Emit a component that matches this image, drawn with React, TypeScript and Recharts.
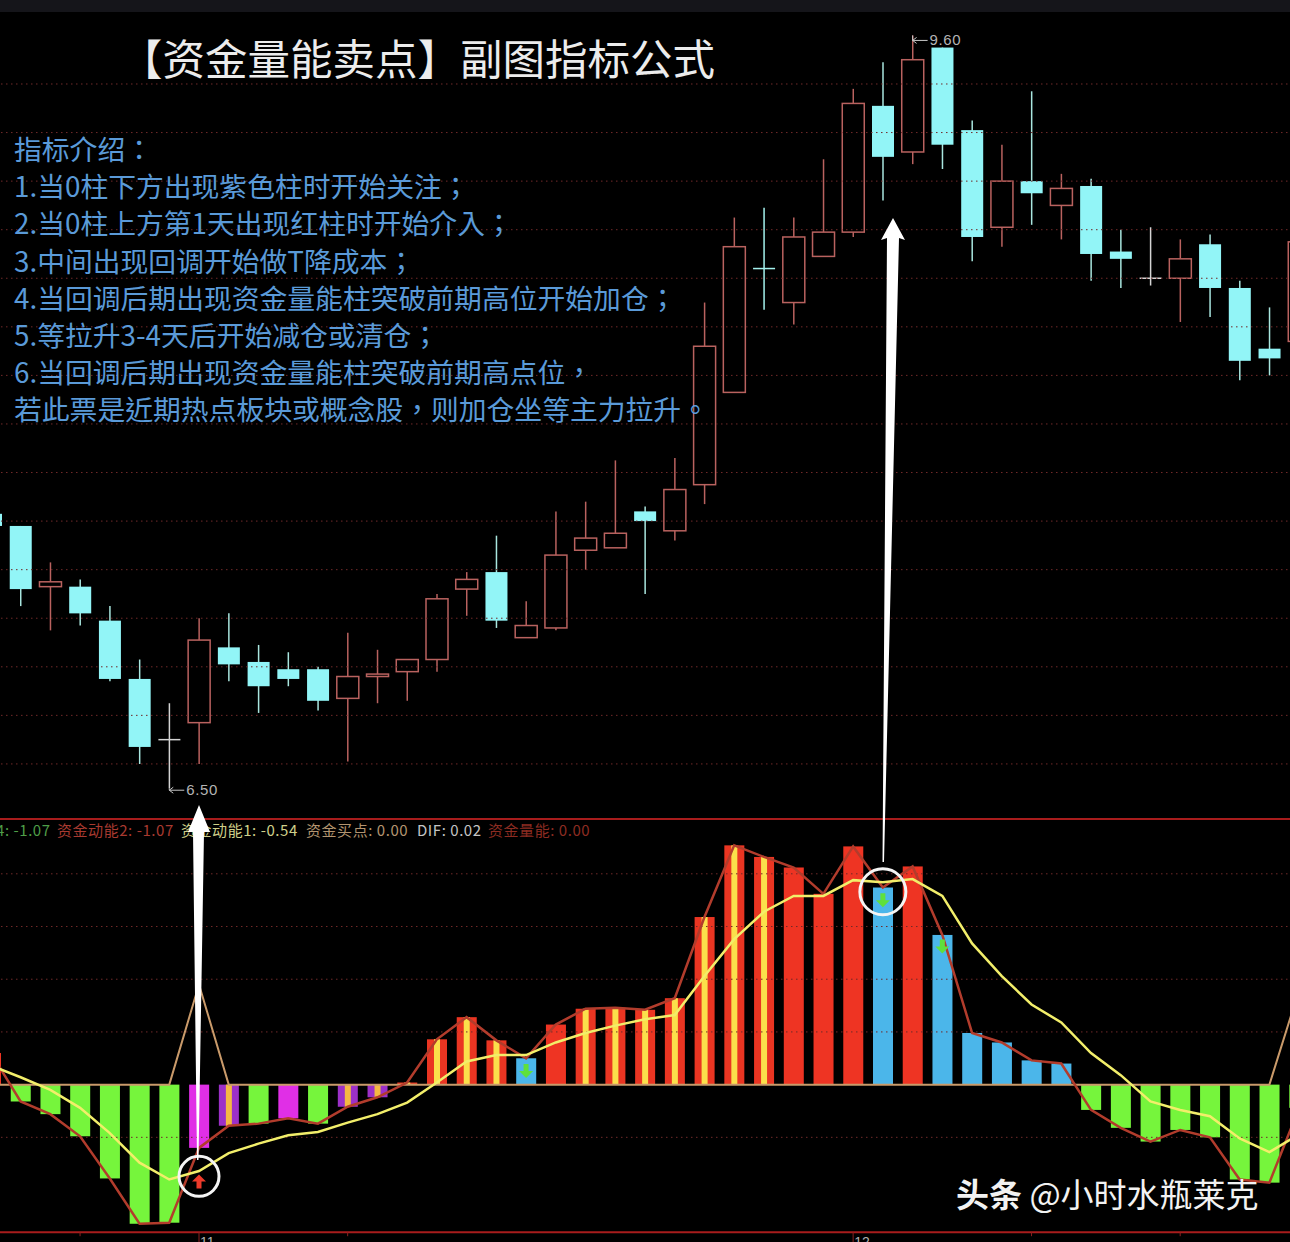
import React from 'react';
import { ComposedChart, Bar, Line, XAxis, YAxis, ReferenceLine, ReferenceDot } from 'recharts';

// candle values
const opens = [7.63, 7.58, 7.33, 7.33, 7.19, 6.95, 6.70, 6.77, 7.08, 7.02, 6.99, 6.99, 6.87, 6.96, 6.98, 7.03, 7.32, 7.39, 7.12, 7.16, 7.48, 7.49, 7.64, 7.56, 7.75, 8.13, 8.64, 8.50, 8.69, 8.79, 9.31, 9.12, 9.55, 9.21, 8.81, 9.00, 8.90, 8.98, 8.71, 8.60, 8.60, 8.74, 8.56, 8.31, 8.34];
const highs = [7.65, 7.58, 7.43, 7.36, 7.25, 7.03, 6.85, 7.20, 7.22, 7.09, 7.06, 7.00, 7.14, 7.07, 7.03, 7.30, 7.39, 7.54, 7.27, 7.64, 7.68, 7.85, 7.66, 7.86, 8.50, 8.85, 8.89, 8.85, 9.09, 9.38, 9.49, 9.60, 9.55, 9.25, 9.15, 9.37, 9.03, 9.01, 8.80, 8.81, 8.76, 8.78, 8.59, 8.48, 8.80];
const lows = [7.56, 7.25, 7.15, 7.17, 6.94, 6.60, 6.50, 6.60, 6.94, 6.81, 6.92, 6.82, 6.61, 6.85, 6.86, 6.98, 7.21, 7.16, 7.12, 7.15, 7.40, 7.49, 7.30, 7.52, 7.67, 8.13, 8.47, 8.41, 8.69, 8.77, 8.92, 9.07, 9.05, 8.67, 8.73, 8.82, 8.76, 8.59, 8.56, 8.57, 8.42, 8.44, 8.18, 8.20, 8.30];
const closes = [7.58, 7.32, 7.35, 7.22, 6.95, 6.67, 6.70, 7.11, 7.01, 6.92, 6.95, 6.86, 6.96, 6.97, 7.03, 7.28, 7.36, 7.19, 7.17, 7.46, 7.53, 7.55, 7.60, 7.73, 8.32, 8.73, 8.64, 8.77, 8.79, 9.32, 9.10, 9.50, 9.15, 8.77, 9.00, 8.95, 8.97, 8.70, 8.68, 8.60, 8.68, 8.56, 8.26, 8.27, 8.75];
const whiteDoji = [6, 39];

// indicator values for the lower panel
const momentum = [0.30, -0.16, -0.28, -0.49, -0.89, -1.32, -1.31, -0.60, -0.39, -0.37, -0.32, -0.37, -0.21, -0.12, 0.02, 0.43, 0.64, 0.42, 0.25, 0.57, 0.72, 0.73, 0.71, 0.82, 1.59, 2.27, 2.16, 2.06, 1.81, 2.26, 1.87, 2.07, 1.42, 0.49, 0.40, 0.23, 0.20, -0.24, -0.41, -0.54, -0.43, -0.50, -0.90, -0.93, -0.22];
const dif = [0.18, 0.07, -0.05, -0.22, -0.46, -0.74, -0.90, -0.82, -0.65, -0.56, -0.48, -0.45, -0.36, -0.28, -0.17, 0.02, 0.22, 0.28, 0.28, 0.40, 0.49, 0.56, 0.62, 0.66, 1.03, 1.38, 1.64, 1.79, 1.79, 1.94, 1.92, 1.95, 1.79, 1.34, 1.03, 0.76, 0.59, 0.30, 0.09, -0.16, -0.24, -0.30, -0.51, -0.64, -0.47];
const buySignal = [0, 0, 0, 0, 0, 0, 0, 0.95, 0, 0, 0, 0, 0, 0, 0, 0, 0, 0, 0, 0, 0, 0, 0, 0, 0, 0, 0, 0, 0, 0, 0, 0, 0, 0, 0, 0, 0, 0, 0, 0, 0, 0, 0, 0, 0.9];
const barKinds = ['red', 'green', 'green', 'green', 'green', 'green', 'green', 'magenta', 'purple', 'green', 'magenta', 'green', 'purple', 'purple', 'redStripe', 'redStripe', 'redStripe', 'redStripe', 'blue', 'red', 'redStripe', 'redStripe', 'redStripe', 'redStripe', 'redStripe', 'redStripe', 'redStripe', 'red', 'red', 'red', 'blue', 'red', 'blue', 'blue', 'blue', 'blue', 'blue', 'green', 'green', 'green', 'green', 'green', 'green', 'green', 'green'];

const priceGrid = [6.6, 6.8, 7.0, 7.2, 7.4, 7.6, 7.8, 8.0, 8.2, 8.4, 8.6, 8.8, 9.0, 9.2, 9.4];
const indicatorGrid = [-0.5, 0.5, 1, 1.5, 2];
const sellMarks = [{ i: 18, v: 0.13 }, { i: 30, v: 1.75 }, { i: 32, v: 1.31 }];
const buyMarks = [{ i: 7, v: -0.92 }];
const circles = [{ i: 7, v: -0.87, r: 20 }, { i: 30, v: 1.83, r: 23 }];
const axisTicks = [3, 7, 12, 29, 35, 40];
const axisLabels: Record<number, string> = { 7: '11', 29: '12' };

const title = '【资金量能卖点】副图指标公式';
const introLines = [
  '指标介绍：',
  '1.当0柱下方出现紫色柱时开始关注；',
  '2.当0柱上方第1天出现红柱时开始介入；',
  '3.中间出现回调开始做T降成本；',
  '4.当回调后期出现资金量能柱突破前期高位开始加仓；',
  '5.等拉升3-4天后开始减仓或清仓；',
  '6.当回调后期出现资金量能柱突破前期高点位，',
  '若此票是近期热点板块或概念股，则加仓坐等主力拉升。',
];
const legendItems = [
  { text: '4: -1.07', left: -4, color: '#4f9e48' },
  { text: '资金动能2: -1.07', left: 57, color: '#a83a30' },
  { text: '资金动能1: -0.54', left: 181, color: '#cfd08a' },
  { text: '资金买点: 0.00', left: 306, color: '#b3946f' },
  { text: 'DIF: 0.02', left: 417, color: '#c4c4c4' },
  { text: '资金量能: 0.00', left: 488, color: '#8d2c22' },
];

const candles = opens.map((open, i) => ({ i, open, high: highs[i], low: lows[i], close: closes[i] }));
const panel = momentum.map((value, i) => ({ i, value, dif: dif[i], buy: buySignal[i], kind: barKinds[i] }));

const CHART_WIDTH = 1338;
const UP = '#b9625f';
const DOWN = '#92f5f7';
const GRID = '#702929';
const CJK = '"Noto Sans CJK SC", "Noto Sans", sans-serif';
const CJK_TC = '"Noto Sans CJK TC", "Noto Sans", sans-serif';

const barColors: Record<string, string> = {
  red: '#ee3423',
  redStripe: '#ea3522',
  blue: '#4bb6ea',
  green: '#76f53c',
  magenta: '#e02fe6',
  purple: '#9c30c8',
};

const Candle = (props: any) => {
  const { x, y, width, height, payload } = props;
  const cx = x + width / 2;
  const unit = height / Math.max(payload.high - payload.low, 0.01);
  const top = y + (payload.high - Math.max(payload.open, payload.close)) * unit;
  const bottom = y + (payload.high - Math.min(payload.open, payload.close)) * unit;
  if (payload.open === payload.close) {
    const color = whiteDoji.includes(payload.i) ? '#d4d4d4' : '#a4f2ee';
    return (
      <g>
        <line x1={cx} x2={cx} y1={y} y2={y + height} stroke={color} strokeWidth={1.5} />
        <line x1={x} x2={x + width} y1={top} y2={top} stroke={color} strokeWidth={1.5} />
      </g>
    );
  }
  if (payload.close > payload.open) {
    return (
      <g>
        <line x1={cx} x2={cx} y1={y} y2={y + height} stroke={UP} strokeWidth={1.5} />
        <rect x={x} y={top} width={width} height={bottom - top} fill="#000" stroke={UP} strokeWidth={1.5} />
      </g>
    );
  }
  return (
    <g>
      <line x1={cx} x2={cx} y1={y} y2={y + height} stroke="#a9e6df" strokeWidth={1.5} />
      <rect x={x} y={top} width={width} height={bottom - top} fill={DOWN} />
    </g>
  );
};

const PanelBar = (props: any) => {
  const { x, y, width, height, payload } = props;
  const top = Math.min(y, y + height);
  const h = Math.abs(height);
  const striped = payload.kind === 'redStripe' || payload.kind === 'purple';
  return (
    <g>
      <rect x={x} y={top} width={width} height={h} fill={barColors[payload.kind]} />
      {striped && (
        <rect
          x={x + width / 2 - 3}
          y={top}
          width={6}
          height={h}
          fill={payload.kind === 'purple' ? '#f4b843' : '#fbe04b'}
        />
      )}
    </g>
  );
};

const arrowPath = (cx: number, cy: number, dir: number) =>
  `M${cx} ${cy - 7 * dir}L${cx + 7} ${cy}L${cx + 2.5} ${cy}L${cx + 2.5} ${cy + 7 * dir}L${cx - 2.5} ${cy + 7 * dir}L${cx - 2.5} ${cy}L${cx - 7} ${cy}Z`;

const priceLabel = (text: string, dir: number) => (props: any) => {
  const { cx, cy } = props;
  const ty = cy + (dir > 0 ? 2 : 5);
  return (
    <g>
      <path d={`M${cx} ${cy}L${cx} ${ty}L${cx + 15} ${ty}M${cx + 4} ${ty - 3}L${cx} ${ty}L${cx + 4} ${ty + 3}`} stroke="#c8c8c8" fill="none" />
      <text x={cx + 17} y={ty + 5} fill="#b4b4b4" fontSize={15} letterSpacing={0.6} fontFamily="Liberation Sans">{text}</text>
    </g>
  );
};

const AxisTick = (props: any) => {
  const { x, y, payload } = props;
  const label = axisLabels[payload.value];
  return (
    <g>
      <line x1={x} x2={x} y1={y - 8} y2={label ? y + 4 : y - 4} stroke="#8a2020" />
      {label && (
        <text x={x + 1} y={y + 7} fill="#b0b0b0" fontSize={14} fontFamily="Liberation Sans">{label}</text>
      )}
    </g>
  );
};

export default function App() {
  return (
    <div style={{ position: 'absolute', left: 0, top: 0, width: 1290, height: 1242, overflow: 'hidden', background: '#000' }}>
      <div style={{ position: 'absolute', left: 0, top: 0, width: 1290, height: 12, background: '#15151a' }} />

      <div style={{ position: 'absolute', left: -24, top: -1 }}>
        <ComposedChart width={CHART_WIDTH} height={813.5} data={candles} margin={{ top: 0, right: 0, bottom: 0, left: 0 }}>
          <XAxis dataKey="i" hide />
          <YAxis hide domain={[6.4, 9.75]} allowDataOverflow />
          {priceGrid.map((p) => (
            <ReferenceLine key={p} y={p} stroke={GRID} strokeDasharray="1.5 3.5" />
          ))}
          <Bar dataKey={(d: any) => [d.low, d.high]} barSize={22} shape={Candle} isAnimationActive={false} />
          <ReferenceDot x={6} y={6.5} r={0} shape={priceLabel('6.50', 1)} />
          <ReferenceDot x={31} y={9.6} r={0} shape={priceLabel('9.60', -1)} />
        </ComposedChart>
      </div>

      <div style={{ position: 'absolute', left: -24, top: 817.4 }}>
        <ComposedChart width={CHART_WIDTH} height={435} data={panel} margin={{ top: 2, right: 0, bottom: 0, left: 0 }}>
          <XAxis dataKey="i" ticks={axisTicks} interval={0} axisLine={false} tickLine={false} tick={<AxisTick />} height={19.8} />
          <YAxis hide domain={[-1.4, 2.52]} allowDataOverflow />
          {indicatorGrid.map((v) => (
            <ReferenceLine key={v} y={v} stroke={GRID} strokeDasharray="1.5 3.5" />
          ))}
          <ReferenceLine y={2.52} stroke="#a81c1c" strokeWidth={2} />
          <ReferenceLine y={-1.4} stroke="#a81c1c" strokeWidth={2} />
          <Bar dataKey="value" barSize={20} shape={PanelBar} isAnimationActive={false} />
          <Line dataKey="buy" stroke="#c99a6a" strokeWidth={2} dot={false} isAnimationActive={false} />
          <Line dataKey="value" stroke="#b23c2c" strokeWidth={2.5} dot={false} isAnimationActive={false} />
          <Line dataKey="dif" stroke="#f2ee6a" strokeWidth={2.5} dot={false} isAnimationActive={false} />
          {sellMarks.map((m) => (
            <ReferenceDot
              key={m.i}
              x={m.i}
              y={m.v}
              r={0}
              shape={(p: any) => <path d={arrowPath(p.cx, p.cy, -1)} fill="#5fe03c" />}
            />
          ))}
          {buyMarks.map((m) => (
            <ReferenceDot
              key={m.i}
              x={m.i}
              y={m.v}
              r={0}
              shape={(p: any) => <path d={arrowPath(p.cx, p.cy, 1)} fill="#ee3a2a" />}
            />
          ))}
          {circles.map((c) => (
            <ReferenceDot key={c.i} x={c.i} y={c.v} r={c.r} fill="none" stroke="#f4f4f4" strokeWidth={3} />
          ))}
        </ComposedChart>
      </div>

      <div style={{ position: 'absolute', left: 120, top: 27, fontFamily: CJK, fontSize: 42.5, lineHeight: '60px', color: '#ececec', whiteSpace: 'nowrap' }}>
        {title}
      </div>

      {introLines.map((line, i) => (
        <div
          key={line}
          style={{ position: 'absolute', left: 14, top: 129 + i * 37.2, fontFamily: CJK_TC, fontSize: 27.8, lineHeight: '38px', color: '#5a9ad8', whiteSpace: 'nowrap' }}
        >
          {line}
        </div>
      ))}

      {legendItems.map((item) => (
        <div
          key={item.text}
          style={{ position: 'absolute', left: item.left, top: 820, fontFamily: CJK, fontSize: 15, letterSpacing: 0.55, lineHeight: '20px', color: item.color, whiteSpace: 'nowrap' }}
        >
          {item.text}
        </div>
      ))}

      <svg width={1290} height={1242} style={{ position: 'absolute', left: 0, top: 0 }}>
        <polygon points="199,805 210,832 204,832 198.5,1160 197,1160 193,832 188,832" fill="#fff" />
        <polygon points="893,218 905,240 899,238 884,862 882.5,862 887,238 881,240" fill="#fff" />
      </svg>

      <div style={{ position: 'absolute', left: 956, top: 1170, fontFamily: CJK, fontSize: 33, lineHeight: '46px', color: '#f2f2f2', whiteSpace: 'nowrap' }}>
        <span style={{ fontWeight: 700 }}>头条</span> @小时水瓶莱克
      </div>
    </div>
  );
}
